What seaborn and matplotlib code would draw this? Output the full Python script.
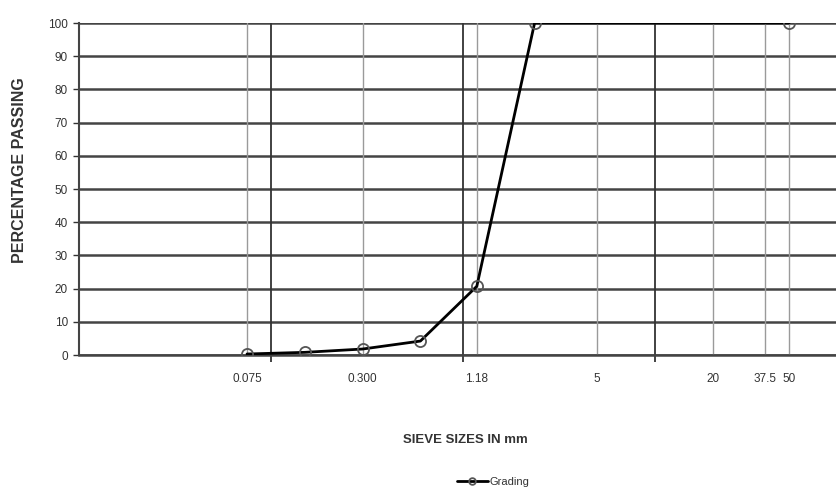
import numpy as np
import pandas as pd
import matplotlib
matplotlib.use("Agg")
import matplotlib.pyplot as plt
import seaborn as sns
from matplotlib.ticker import FixedLocator, FixedFormatter, NullFormatter

# Data
sieve_sizes = [0.075, 0.15, 0.3, 0.6, 1.18, 2.36, 50]
percent_passing = [0.3, 0.8, 1.8, 4.2, 20.7, 100, 100]
tick_values = [0.075, 0.3, 1.18, 5, 20, 37.5, 50]
tick_labels = ["0.075", "0.300", "1.18", "5", "20", "37.5", "50"]
decades = [0.1, 1, 10]
y_ticks = list(range(0, 101, 10))
series_name = "Grading"

sns.set_theme(style="white")
plt.rcParams['font.family'] = ['Liberation Sans Narrow', 'Liberation Sans', 'DejaVu Sans']

df = pd.DataFrame({"size": sieve_sizes, "passing": percent_passing, "series": series_name})

W, H = 837, 495
fig = plt.figure(figsize=(W / 100, H / 100), dpi=100)
left_px, right_px, top_px, bottom_px = 79, 847, 23, 355
ax = fig.add_axes([left_px / W, 1 - bottom_px / H, (right_px - left_px) / W, (bottom_px - top_px) / H])

sns.lineplot(data=df, x="size", y="passing", hue="series", palette=["black"], ax=ax,
             marker="o", markersize=8, markerfacecolor="none", markeredgecolor="#555555",
             markeredgewidth=1.3, linewidth=2.0, sort=False, legend=True, zorder=5)

ax.set_xscale("log")
ax.set_xlim(0.01, 100)
ax.set_ylim(0, 100)

# x ticks: decades as major (unlabelled), sieve sizes as minor (labelled)
ax.xaxis.set_major_locator(FixedLocator(decades))
ax.xaxis.set_major_formatter(NullFormatter())
ax.xaxis.set_minor_locator(FixedLocator(tick_values))
ax.xaxis.set_minor_formatter(FixedFormatter(tick_labels))
ax.tick_params(axis="x", which="major", bottom=True, direction="out", length=5, width=1.2, color="#222222")
ax.tick_params(axis="x", which="minor", bottom=True, length=0, labelsize=8.5, pad=13, labelcolor="#333333")

ax.set_yticks(y_ticks)
ax.tick_params(axis="y", which="major", left=True, direction="out", length=4, width=1.0,
               color="#333333", labelsize=8.5, pad=4, labelcolor="#333333")

# gridlines
ax.grid(False)
for y in y_ticks:
    ax.axhline(y, color="#444444", linewidth=1.8, zorder=1)
for d in decades:
    ax.axvline(d, color="#333333", linewidth=1.3, zorder=1)
for t in tick_values:
    ax.axvline(t, color="#9a9a9a", linewidth=1.0, zorder=1)

for s in ["top", "right"]:
    ax.spines[s].set_visible(False)
ax.spines["left"].set_color("#444444")
ax.spines["left"].set_linewidth(1.5)
ax.spines["bottom"].set_color("#444444")
ax.spines["bottom"].set_linewidth(1.8)

ax.set_xlabel("")
ax.set_ylabel("")
fig.text(20 / W, 1 - 170 / H, "PERCENTAGE PASSING", rotation=90, ha="center", va="center",
         fontsize=11.5, fontweight="bold", color="#333333", family=["Liberation Sans", "DejaVu Sans"])
fig.text(465 / W, 1 - 440 / H, "SIEVE SIZES IN mm", ha="center", va="center",
         fontsize=9.5, fontweight="bold", color="#333333", family=["Liberation Sans Narrow", "Liberation Sans", "DejaVu Sans"])

handles, labels = ax.get_legend_handles_labels()
ax.get_legend().remove()
fig.legend(handles, labels, loc="center", bbox_to_anchor=(493 / W, 1 - 482 / H), frameon=False,
           fontsize=8, handlelength=2.8, handletextpad=0.15, markerscale=0.6,
           labelcolor="#333333")

fig.savefig("out.png", dpi=100)
